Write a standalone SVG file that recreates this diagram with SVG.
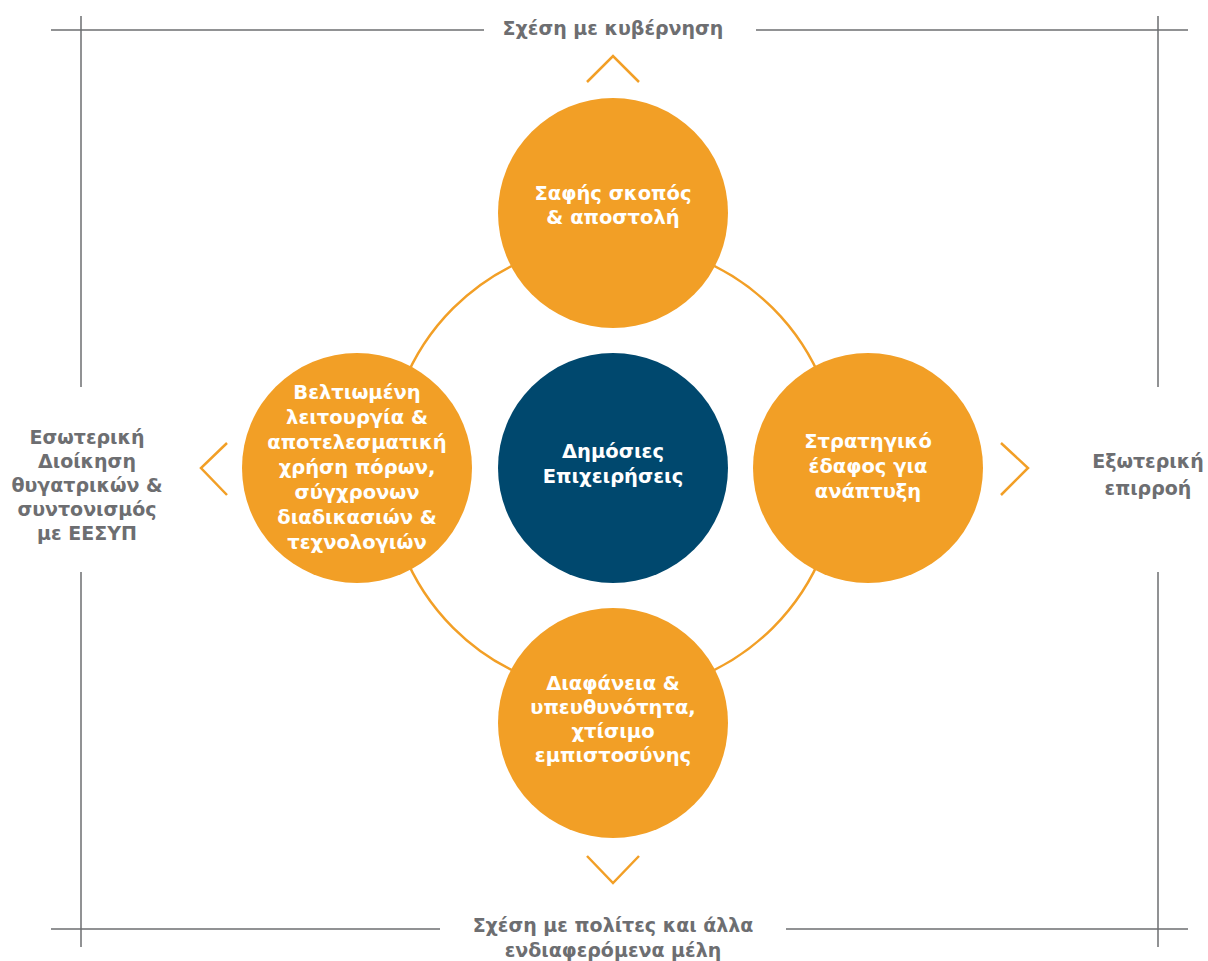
<svg xmlns="http://www.w3.org/2000/svg" width="1208" height="961" viewBox="0 0 1208 961">
<style>
.frame{stroke:#6d6e71;stroke-width:1.5;fill:none}
.ring{stroke:#f29f26;stroke-width:2.5;fill:none}
.chev{stroke:#f29f26;stroke-width:2.5;fill:none}
.orange{fill:#f29f26}
.dark{fill:#00486e}
.lbl{font-family:"DejaVu Sans",sans-serif;font-weight:bold;font-size:19px;fill:#6d6e71;text-anchor:middle}
.ct{font-family:"DejaVu Sans",sans-serif;font-weight:bold;font-size:19.5px;fill:#ffffff;text-anchor:middle}
</style>
<rect width="1208" height="961" fill="#ffffff"/>
<g id="frame">
<line class="frame" x1="51" y1="30" x2="484" y2="30"/>
<line class="frame" x1="756" y1="30" x2="1188" y2="30"/>
<line class="frame" x1="51" y1="929" x2="440" y2="929"/>
<line class="frame" x1="786" y1="929" x2="1188" y2="929"/>
<line class="frame" x1="81" y1="16" x2="81" y2="387"/>
<line class="frame" x1="81" y1="572" x2="81" y2="947"/>
<line class="frame" x1="1158" y1="16" x2="1158" y2="387"/>
<line class="frame" x1="1158" y1="572" x2="1158" y2="947"/>
</g>
<g id="connectors">
<circle class="ring" cx="613" cy="468" r="226"/>
<polyline class="chev" points="587,82 613,56 639,82"/>
<polyline class="chev" points="587,856 613,883 639,856"/>
<polyline class="chev" points="227,443 201,468 227,495"/>
<polyline class="chev" points="1001,443 1028,468 1001,495"/>
</g>
<g id="node-top">
<circle class="orange" cx="613" cy="213" r="115"/>
<text class="ct" x="613" y="200">Σαφής σκοπός</text>
<text class="ct" x="613" y="224">&amp; αποστολή</text>
</g>
<g id="node-left">
<circle class="orange" cx="357" cy="468" r="115"/>
<text class="ct" x="357" y="399">Βελτιωμένη</text>
<text class="ct" x="357" y="424">λειτουργία &amp;</text>
<text class="ct" x="357" y="449">αποτελεσματική</text>
<text class="ct" x="357" y="474">χρήση πόρων,</text>
<text class="ct" x="357" y="499">σύγχρονων</text>
<text class="ct" x="357" y="524">διαδικασιών &amp;</text>
<text class="ct" x="357" y="549">τεχνολογιών</text>
</g>
<g id="node-center">
<circle class="dark" cx="613" cy="468" r="115"/>
<text class="ct" x="613" y="458">Δημόσιες</text>
<text class="ct" x="613" y="483">Επιχειρήσεις</text>
</g>
<g id="node-right">
<circle class="orange" cx="868" cy="468" r="115"/>
<text class="ct" x="868" y="448">Στρατηγικό</text>
<text class="ct" x="868" y="473">έδαφος για</text>
<text class="ct" x="868" y="498">ανάπτυξη</text>
</g>
<g id="node-bottom">
<circle class="orange" cx="613" cy="723" r="115"/>
<text class="ct" x="613" y="690">Διαφάνεια &amp;</text>
<text class="ct" x="613" y="714">υπευθυνότητα,</text>
<text class="ct" x="613" y="738">χτίσιμο</text>
<text class="ct" x="613" y="762">εμπιστοσύνης</text>
</g>
<g id="label-top">
<text class="lbl" x="613" y="35">Σχέση με κυβέρνηση</text>
</g>
<g id="label-left">
<text class="lbl" x="87" y="444">Εσωτερική</text>
<text class="lbl" x="87" y="468">Διοίκηση</text>
<text class="lbl" x="87" y="492">θυγατρικών &amp;</text>
<text class="lbl" x="87" y="516">συντονισμός</text>
<text class="lbl" x="87" y="540">με ΕΕΣΥΠ</text>
</g>
<g id="label-right">
<text class="lbl" x="1148" y="468">Εξωτερική</text>
<text class="lbl" x="1148" y="495">επιρροή</text>
</g>
<g id="label-bottom">
<text class="lbl" x="613" y="932">Σχέση με πολίτες και άλλα</text>
<text class="lbl" x="613" y="957">ενδιαφερόμενα μέλη</text>
</g>
</svg>
